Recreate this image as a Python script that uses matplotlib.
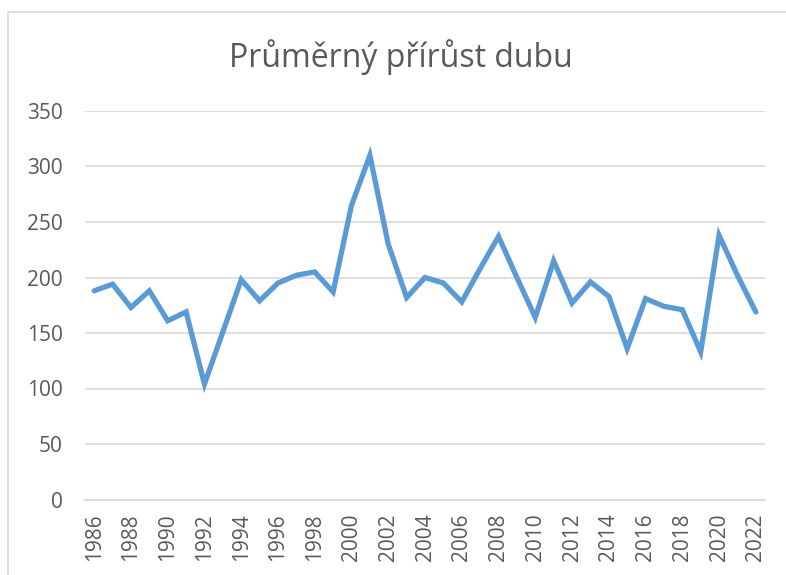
import numpy as np
import matplotlib
matplotlib.use("Agg")
import matplotlib.pyplot as plt
from matplotlib.patches import Rectangle

years = list(range(1986, 2023))
values = [188, 194, 173, 188, 161, 169, 104, 151, 198, 179, 195, 202, 205, 187, 265,
          310, 230, 182, 200, 195, 178, 208, 237, 200, 164, 215, 177, 196, 183, 136,
          181, 174, 171, 133, 238, 202, 169]
y_ticks = [0, 50, 100, 150, 200, 250, 300, 350]
title = "Průměrný přírůst dubu"

plt.rcParams['font.family'] = ['Open Sans', 'DejaVu Sans']
text_col = '#595959'

fig = plt.figure(figsize=(7.86, 5.75), dpi=100)
ax = fig.add_axes([85 / 786, 1 - 499.5 / 575, (765 - 85) / 786, (499.5 - 111) / 575])

ax.plot(years, values, color='#5b9bd5', lw=3.8, solid_joinstyle='miter', solid_capstyle='round')

ax.set_xlim(1985.5, 2022.5)
ax.set_ylim(0, 350)
ax.set_yticks(y_ticks)
ax.set_xticks(years[::2])
ax.set_xticklabels([str(y) for y in years[::2]], rotation=90)
ax.grid(axis='y', color='#d9d9d9', lw=1.2)
ax.set_axisbelow(True)
for s in ['top', 'right', 'left']:
    ax.spines[s].set_visible(False)
ax.spines['bottom'].set_color('#d9d9d9')
ax.spines['bottom'].set_linewidth(1.2)
ax.tick_params(axis='both', length=0, labelsize=15, colors=text_col)
ax.tick_params(axis='y', pad=16)
ax.tick_params(axis='x', pad=10)

fig.text(401 / 786, 1 - 57 / 575, title, ha='center', va='center', fontsize=23, color=text_col)

# chart border
fig.patches.append(Rectangle((8 / 786, -0.1), 1.2, 1 - 12 / 575 + 0.1, transform=fig.transFigure,
                             fill=False, ec='#d9d9d9', lw=1.2))

fig.savefig('out.png', dpi=100)
